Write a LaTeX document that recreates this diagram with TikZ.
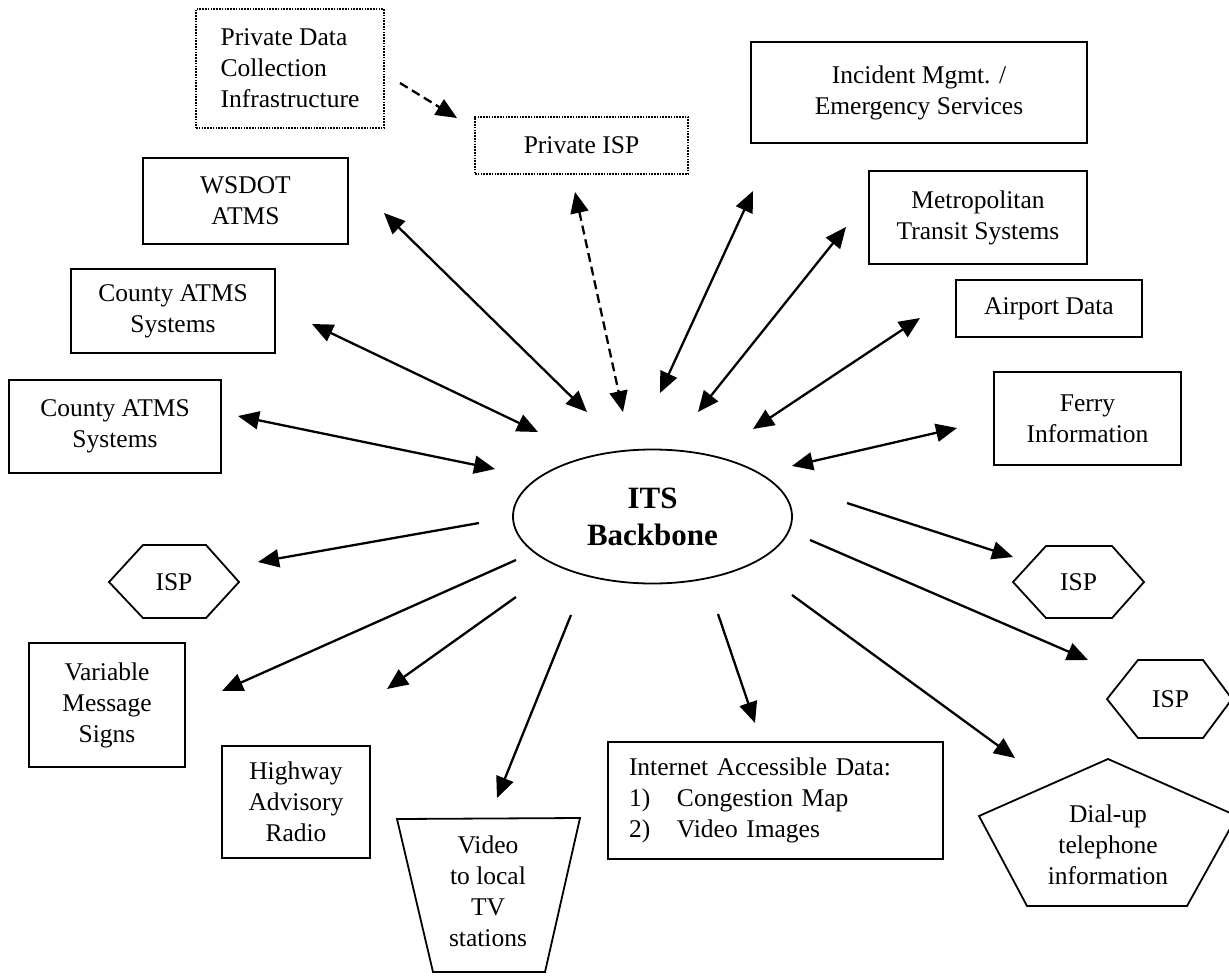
\documentclass[tikz,border=0pt]{standalone}
\usepackage{fontspec}
\setmainfont{Liberation Serif}
\usetikzlibrary{arrows.meta,shapes.geometric}
\begin{document}
\begin{tikzpicture}[x=1pt,y=-1pt,
  every node/.style={font=\fontsize{25.5}{31}\selectfont},
  box/.style={draw, line width=1.8pt, rectangle, inner sep=0pt, align=center},
  dotbox/.style={draw, line width=1.6pt, dash pattern=on 1.6pt off 1.2pt, rectangle, inner sep=0pt},
  outline/.style={draw, line width=1.8pt, line join=miter},
  lbl/.style={inner sep=0pt, align=center},
  conn/.style={line width=2.3pt, -{Triangle[length=21pt,width=18pt]}},
  biconn/.style={line width=2.3pt, {Triangle[length=21pt,width=18pt]}-{Triangle[length=21pt,width=18pt]}},
  dashconn/.style={dash pattern=on 9pt off 5pt}]

\fill[white] (0,0) rectangle (1229,975);
\useasboundingbox (0,0) rectangle (1229,975);

% ---------- nodes ----------
\node[dotbox, minimum width=188pt, minimum height=119pt, align=left] (pdc) at (290,68.5)
  {Private Data\\Collection\\Infrastructure};
\node[dotbox, minimum width=213pt, minimum height=57pt, align=center] (pisp) at (581.5,145.5) {Private ISP};
\node[box, minimum width=336pt, minimum height=101pt] (inc) at (919,92.5) {Incident Mgmt. /\\Emergency Services};
\node[box, minimum width=218pt, minimum height=93pt] (metro) at (978,217.5) {Metropolitan\\Transit Systems};
\node[box, minimum width=186pt, minimum height=57pt] (air) at (1049,308.5) {Airport Data};
\node[box, minimum width=187pt, minimum height=93pt] (ferry) at (1087.5,418.5) {Ferry\\Information};
\node[box, minimum width=205pt, minimum height=86pt] (wsdot) at (245.5,201) {WSDOT\\ATMS};
\node[box, minimum width=204pt, minimum height=84pt] (cty1) at (173,311) {County ATMS\\Systems};
\node[box, minimum width=212pt, minimum height=93pt] (cty2) at (115,426.5) {County ATMS\\Systems};
\node[draw, ellipse, line width=1.8pt, minimum width=279pt, minimum height=134pt, inner sep=0pt,
  align=center, font=\bfseries\fontsize{31}{37}\selectfont] (its) at (652.5,516.5) {ITS\\Backbone};
\node[box, minimum width=156pt, minimum height=124pt] (vms) at (107,705) {Variable\\Message\\Signs};
\node[box, minimum width=148pt, minimum height=112pt] (har) at (296,802) {Highway\\Advisory\\Radio};
\node[box, text width=293pt, inner xsep=21pt, minimum height=117pt, align=left] (inet) at (775.5,800.5)
  {Internet Accessible Data:\\\makebox[48pt][l]{1)}Congestion Map\\\makebox[48pt][l]{2)}Video Images};

% hexagons, trapezoid, pentagon
\draw[outline] (109,582) -- (143,545) -- (206,545) -- (239,582) -- (206,618) -- (143,618) -- cycle;
\node[lbl] (ispL) at (174,582) {ISP};
\draw[outline] (1013,582) -- (1046,546) -- (1112,546) -- (1144,582) -- (1112,618) -- (1046,618) -- cycle;
\node[lbl] (ispR1) at (1078.5,582) {ISP};
\draw[outline] (1107,699) -- (1138,660) -- (1203,660) -- (1232,699) -- (1203,738) -- (1138,738) -- cycle;
\node[lbl] (ispR2) at (1170.5,699) {ISP};
\draw[outline] (397,819) -- (580,818) -- (545,972) -- (433,972) -- cycle;
\node[lbl] (video) at (488,891) {Video\\to local\\TV\\stations};
\draw[outline] (1108,759) -- (979,816) -- (1027,906) -- (1187,906) -- (1237,816) -- cycle;
\node[lbl] (dial) at (1108,845) {Dial-up\\telephone\\information};

% ---------- connector ends ----------
\coordinate (pdc-o) at (400,83);    \coordinate (pisp-i) at (457,118);
\coordinate (pisp-e) at (575,192);  \coordinate (its-pisp) at (623,412);
\coordinate (wsdot-e) at (384,213); \coordinate (its-wsdot) at (587,412);
\coordinate (cty1-e) at (312,324);  \coordinate (its-cty1) at (538,432);
\coordinate (cty2-e) at (238,416);  \coordinate (its-cty2) at (495,469);
\coordinate (inc-e) at (753,191);   \coordinate (its-inc) at (660,393);
\coordinate (metro-e) at (846,227); \coordinate (its-metro) at (698,412);
\coordinate (air-e) at (920,318);   \coordinate (its-air) at (753,429);
\coordinate (ferry-e) at (957,428); \coordinate (its-ferry) at (792,466);
\coordinate (its-ispL) at (479,523);  \coordinate (ispL-e) at (258,562);
\coordinate (its-vms) at (516,560);   \coordinate (vms-e) at (222,691);
\coordinate (its-har) at (516,597);   \coordinate (har-e) at (387,689);
\coordinate (its-video) at (571,615); \coordinate (video-e) at (497,798);
\coordinate (its-inet) at (718,614);  \coordinate (inet-e) at (755,723);
\coordinate (its-dial) at (792,595);  \coordinate (dial-e) at (1015,758);
\coordinate (its-ispR2) at (810,540); \coordinate (ispR2-e) at (1088,660);
\coordinate (its-ispR1) at (847,503); \coordinate (ispR1-e) at (1013,557);

% ---------- connectors ----------
\draw[conn, dashconn] (pdc-o) -- (pisp-i);
\draw[biconn, dashconn] (pisp-e) -- (its-pisp);
\draw[biconn] (wsdot-e) -- (its-wsdot);
\draw[biconn] (cty1-e) -- (its-cty1);
\draw[biconn] (cty2-e) -- (its-cty2);
\draw[biconn] (inc-e) -- (its-inc);
\draw[biconn] (metro-e) -- (its-metro);
\draw[biconn] (air-e) -- (its-air);
\draw[biconn] (ferry-e) -- (its-ferry);
\draw[conn] (its-ispL) -- (ispL-e);
\draw[conn] (its-vms) -- (vms-e);
\draw[conn] (its-har) -- (har-e);
\draw[conn] (its-video) -- (video-e);
\draw[conn] (its-inet) -- (inet-e);
\draw[conn] (its-dial) -- (dial-e);
\draw[conn] (its-ispR2) -- (ispR2-e);
\draw[conn] (its-ispR1) -- (ispR1-e);
\end{tikzpicture}
\end{document}
